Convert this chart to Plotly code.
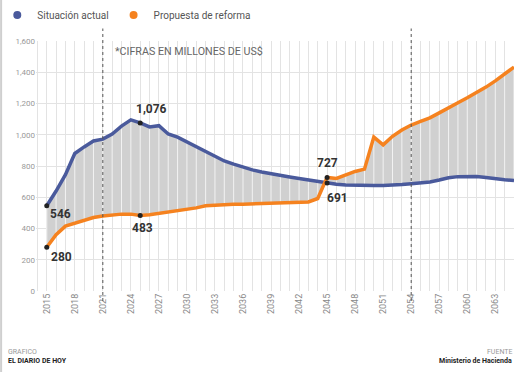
import plotly.graph_objects as go

# data (millions of US$)
years = list(range(2015, 2066))
actual = [546, 640, 745, 880, 922, 960, 972, 1005, 1055, 1095,
          1076, 1050, 1058, 1005, 985, 955, 922, 890, 860, 832,
          812, 792, 775, 762, 753, 740, 730, 720, 710, 700,
          691, 683, 678, 676, 675, 675, 676, 677, 681, 686,
          692, 698, 710, 725, 732, 735, 733, 727, 718, 712, 707]
reforma = [280, 360, 415, 435, 455, 470, 480, 488, 492, 492,
           483, 488, 497, 505, 512, 520, 532, 545, 550, 553,
           555, 556, 558, 561, 564, 566, 568, 565, 570, 592,
           727, 720, 745, 765, 780, 985, 935, 990, 1030, 1062,
           1085, 1108, 1140, 1175, 1205, 1237, 1270, 1305, 1345, 1390, 1433]
highlight_years = [2015, 2025, 2045]
marker_years = [2021, 2054]

BLUE = "#4a5a9c"
ORANGE = "#f5821f"
FONT = "Roboto"

fig = go.Figure()

# shaded band between both series
fig.add_trace(go.Scatter(x=years, y=actual, mode="lines", line=dict(width=0),
                         showlegend=False, hoverinfo="skip"))
fig.add_trace(go.Scatter(x=years, y=reforma, mode="lines", line=dict(width=0),
                         fill="tonexty", fillcolor="#d0d0d0",
                         showlegend=False, hoverinfo="skip"))

# light yearly stripes inside the band
stripe_x, stripe_y = [], []
for yr, a, r in zip(years, actual, reforma):
    stripe_x += [yr, yr, None]
    stripe_y += [min(a, r), max(a, r), None]
fig.add_trace(go.Scatter(x=stripe_x, y=stripe_y, mode="lines",
                         line=dict(color="#f2f2f2", width=1),
                         showlegend=False, hoverinfo="skip"))

fig.add_trace(go.Scatter(x=years, y=actual, mode="lines", name="Situación actual",
                         line=dict(color=BLUE, width=3.5), showlegend=False))
fig.add_trace(go.Scatter(x=years, y=reforma, mode="lines", name="Propuesta de reforma",
                         line=dict(color=ORANGE, width=3.5), showlegend=False))

# legend entries drawn as dots
fig.add_trace(go.Scatter(x=[None], y=[None], mode="markers", name="Situación actual",
                         marker=dict(color=BLUE, size=8)))
fig.add_trace(go.Scatter(x=[None], y=[None], mode="markers", name="Propuesta de reforma",
                         marker=dict(color=ORANGE, size=8)))

# highlighted points
hx, hy = [], []
for yr in highlight_years:
    i = years.index(yr)
    hx += [yr, yr]
    hy += [actual[i], reforma[i]]
fig.add_trace(go.Scatter(x=hx, y=hy, mode="markers", showlegend=False,
                         marker=dict(color="#222", size=5), hoverinfo="skip"))

label_font = dict(family=FONT, size=12, color="#333")
offsets = {
    (2015, "a"): (1, -8, "left"), (2015, "r"): (2, -10, "left"),
    (2025, "a"): (11, 14, "center"), (2025, "r"): (2, -12, "center"),
    (2045, "a"): (10, -15, "center"), (2045, "r"): (0, 14, "center"),
}
for yr in highlight_years:
    i = years.index(yr)
    for key, val in (("a", actual[i]), ("r", reforma[i])):
        dx, dy, anchor = offsets[(yr, key)]
        fig.add_annotation(x=yr, y=val, text=f"<b>{val:,}</b>", showarrow=False,
                           xanchor=anchor, yanchor="middle", xshift=dx, yshift=dy,
                           font=label_font)

for yr in marker_years:
    fig.add_shape(type="line", x0=yr, x1=yr, xref="x", yref="paper", y0=-0.04, y1=1.05,
                  line=dict(color="#555", width=1, dash="dot"))

fig.add_annotation(x=2022.1, y=1530, xref="x", yref="y", text="*CIFRAS EN MILLONES DE US$",
                   showarrow=False, xanchor="left", yanchor="middle",
                   font=dict(family=FONT, size=10.7, color="#666"))

# footer
foot_small = dict(family=FONT, size=7, color="#999")
foot_bold = dict(family=FONT, size=7, color="#222")
fig.add_annotation(x=-0.062, y=-0.244, xref="paper", yref="paper", text="GRAFICO",
                   showarrow=False, xanchor="left", yanchor="middle", font=foot_small)
fig.add_annotation(x=-0.062, y=-0.28, xref="paper", yref="paper", text="<b>EL DIARIO DE HOY</b>",
                   showarrow=False, xanchor="left", yanchor="middle", font=foot_bold)
fig.add_annotation(x=1.0, y=-0.244, xref="paper", yref="paper", text="FUENTE",
                   showarrow=False, xanchor="right", yanchor="middle", font=foot_small)
fig.add_annotation(x=1.0, y=-0.28, xref="paper", yref="paper", text="<b>Ministerio de Hacienda</b>",
                   showarrow=False, xanchor="right", yanchor="middle", font=foot_bold)

fig.add_shape(type="line", xref="paper", yref="paper", x0=-0.073, x1=-0.073, y0=-0.4, y1=1.2,
              line=dict(color="#cfcfcf", width=2))

fig.update_layout(
    width=522, height=372,
    margin=dict(l=36, r=8, t=41, b=81, autoexpand=False),
    paper_bgcolor="white", plot_bgcolor="white",
    font=dict(family=FONT, color="#666"),
    legend=dict(orientation="h", x=-0.081, y=1.104, xanchor="left", yanchor="middle",
                traceorder="normal",
                font=dict(family=FONT, size=10, color="#555"),
                itemwidth=30, bgcolor="rgba(0,0,0,0)"),
    xaxis=dict(range=[2013.85, 2065], tick0=2015, dtick=3, tickangle=-90,
               showgrid=True, gridcolor="#e3e3e3", gridwidth=1,
               minor=dict(dtick=1, tick0=2015, showgrid=True, gridcolor="#e3e3e3", gridwidth=1),
               tickfont=dict(family=FONT, size=9, color="#888"),
               zeroline=False, showline=False, ticks=""),
    yaxis=dict(range=[0, 1600], dtick=200, tickformat=",d",
               showgrid=True, gridcolor="#e3e3e3", gridwidth=1,
               tickfont=dict(family=FONT, size=8, color="#999"),
               zeroline=False, showline=False, ticks=""),
)

fig.write_html("out.html", config={"displayModeBar": False},
               post_script="document.body.style.margin='0';")
